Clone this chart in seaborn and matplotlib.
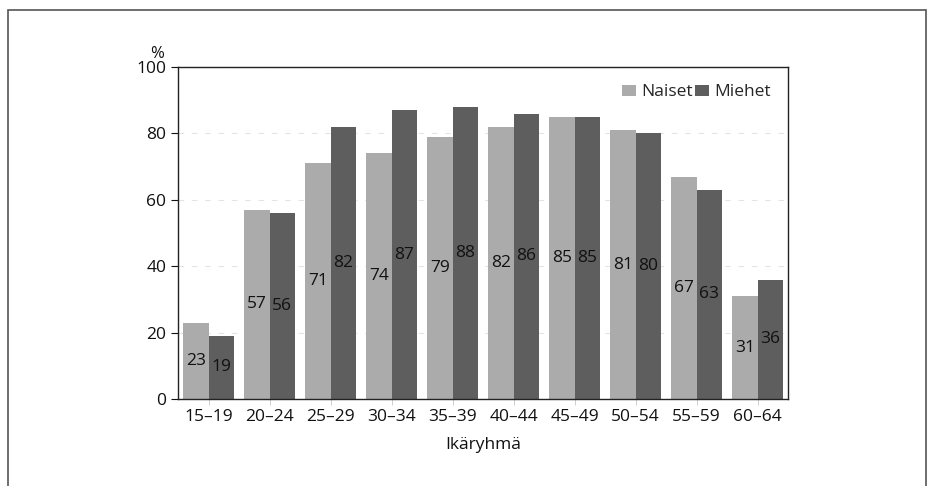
import matplotlib
matplotlib.use("Agg")
import matplotlib.pyplot as plt
import seaborn as sns
import pandas as pd
from matplotlib.patches import Rectangle

categories = ["15–19", "20–24", "25–29", "30–34", "35–39", "40–44", "45–49", "50–54", "55–59", "60–64"]
naiset = [23, 57, 71, 74, 79, 82, 85, 81, 67, 31]
miehet = [19, 56, 82, 87, 88, 86, 85, 80, 63, 36]
series_names = ["Naiset", "Miehet"]
yticks = [0, 20, 40, 60, 80, 100]

df = pd.DataFrame({
    "Ikäryhmä": categories * 2,
    "value": naiset + miehet,
    "sex": [series_names[0]] * len(categories) + [series_names[1]] * len(categories),
})

sns.set_theme(style="white")
plt.rcParams["font.family"] = ["Open Sans", "DejaVu Sans"]

fig = plt.figure(figsize=(9.34, 4.86), dpi=100)
ax = fig.add_axes([0.1906, 0.179, 0.6531, 0.683])

sns.barplot(data=df, x="Ikäryhmä", y="value", hue="sex", order=categories,
            hue_order=series_names, palette=["#ababab", "#5e5e5e"],
            saturation=1, width=0.84, ax=ax, linewidth=0)

for c in ax.containers:
    ax.bar_label(c, label_type="center", fontsize=12.5, color="#111111")

ax.set_ylim(0, 100)
ax.set_xlim(-0.5, len(categories) - 0.5)
ax.set_yticks(yticks)
ax.tick_params(axis="y", length=5, width=0.8, labelsize=12.5, colors="#111111", direction="out", left=True)
ax.tick_params(axis="x", length=4, width=0.5, labelsize=12.5, colors="#bbbbbb", labelcolor="#111111",
               direction="out", bottom=True)
ax.set_ylabel("")
ax.set_xlabel("Ikäryhmä", fontsize=12.5, color="#111111", labelpad=8)
ax.grid(axis="y", color="#e4e4e4", linestyle=(0, (5, 7)), linewidth=0.8)
ax.set_axisbelow(True)
for s in ax.spines.values():
    s.set_visible(True)
    s.set_color("#222222")
    s.set_linewidth(1.0)

ax.text(-0.045, 1.015, "%", transform=ax.transAxes, fontsize=12, color="#111111", ha="left", va="bottom")

ax.legend(loc="upper right", ncol=2, frameon=False, fontsize=12.5,
          handlelength=0.8, handleheight=0.6, columnspacing=0.1,
          handletextpad=0.3, borderaxespad=0.6)
ax.get_legend().set_title(None)

fig.add_artist(Rectangle((8 / 934, -0.1), (926 - 8) / 934, 1 - 10 / 486 + 0.1,
                         fill=False, transform=fig.transFigure, ec="#555555", lw=1.2))

fig.savefig("out.png", dpi=100)
